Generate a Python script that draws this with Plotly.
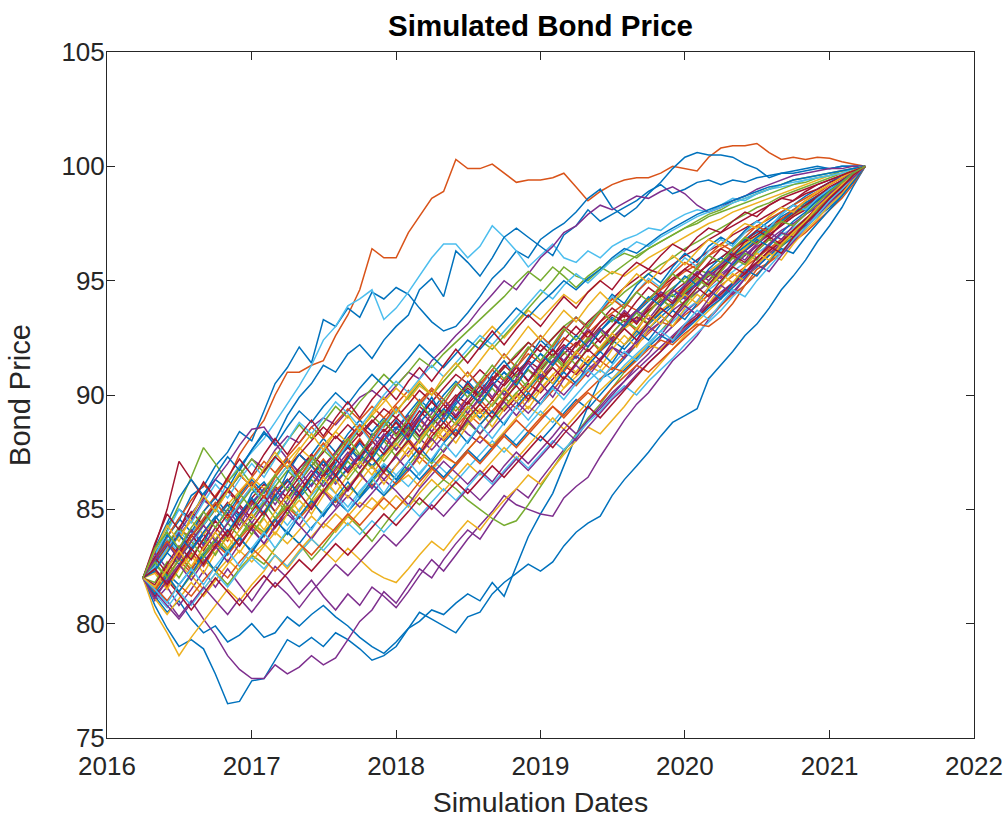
import pandas as pd
import plotly.graph_objects as go

# ---------------- data (monthly simulated bond prices) ----------------
start_date = "2016-04-01"   # first simulation date
year_ticks = ["2016", "2017", "2018", "2019", "2020", "2021", "2022"]
price_ticks = [75, 80, 85, 90, 95, 100, 105]

P1 = [82.0, 82.6, 83.4, 84.1, 83.8, 84.9, 85.6, 86.3, 87.4, 88.2,
      88.9, 90.0, 91.0, 91.0, 91.3, 91.5, 92.6, 93.5, 94.6, 96.4,
      96.0, 96.0, 97.1, 97.8, 98.6, 98.9, 100.3, 99.9, 99.9, 100.1,
      99.7, 99.3, 99.4, 99.4, 99.5, 99.7, 99.1, 98.5, 98.9, 99.2,
      99.4, 99.5, 99.5, 99.7, 100.0, 99.9, 99.8, 100.4, 100.8, 100.9,
      100.9, 101.0, 100.6, 100.3, 100.4, 100.3, 100.4, 100.35, 100.2, 100.1,
      100.0]
P2 = [82.0, 83.0, 83.8, 84.5, 85.6, 86.0, 86.9, 87.5, 88.4, 88.0,
      89.3, 90.5, 91.2, 92.1, 91.4, 93.3, 93.0, 93.8, 93.4, 94.5,
      94.2, 94.7, 94.4, 93.8, 93.2, 92.8, 93.0, 93.6, 94.3, 95.1,
      95.6, 96.3, 96.0, 96.8, 97.2, 97.5, 98.0, 98.6, 99.0, 98.2,
      97.8, 98.2, 98.8, 99.3, 99.9, 100.4, 100.6, 100.5, 100.5, 100.4,
      100.1, 99.9, 99.5, 99.7, 99.8, 99.9, 100.0, 99.9, 100.0, 100.0,
      100.0]
P3 = [82.0, 82.9, 83.6, 84.0, 84.8, 85.5, 85.1, 86.2, 86.9, 87.5,
      88.1, 88.8, 89.6, 90.4, 91.3, 92.4, 93.0, 93.9, 94.2, 94.6,
      93.3, 93.8, 94.5, 95.2, 96.0, 96.6, 96.6, 96.0, 96.5, 97.4,
      96.9, 96.3, 95.6, 96.1, 96.6, 96.0, 95.8, 96.3, 96.0, 96.5,
      96.8, 97.0, 97.3, 97.2, 97.6, 97.9, 98.1, 98.0, 98.3, 98.6,
      98.5, 98.8, 99.0, 99.1, 99.2, 99.4, 99.5, 99.6, 99.7, 99.9,
      100.0]
P4 = [82.0, 83.2, 84.3, 85.0, 84.6, 85.7, 86.3, 85.9, 86.8, 87.6,
      88.3, 88.0, 89.1, 89.9, 90.5, 91.3, 91.0, 91.8, 92.2, 91.6,
      92.4, 93.0, 93.5, 94.6, 95.1, 94.3, 96.3, 95.8, 95.2, 96.0,
      96.9, 97.3, 96.9, 96.5, 96.1, 97.0, 97.4, 98.1, 97.6, 97.9,
      98.2, 98.5, 98.9, 99.2, 98.8, 99.0, 99.3, 99.4, 99.2, 99.4,
      99.3, 99.5, 99.6, 99.7, 99.7, 99.8, 99.9, 99.9, 100.0, 100.0,
      100.0]
P5 = [82.0, 82.4, 83.3, 83.9, 84.5, 85.4, 85.0, 85.8, 86.5, 87.2,
      86.8, 87.6, 88.2, 87.9, 88.6, 89.0, 88.7, 89.3, 89.9, 90.2,
      89.8, 90.4, 91.0, 90.7, 91.5, 92.0, 92.6, 93.1, 93.8, 94.4,
      95.0, 94.6, 95.3, 96.0, 96.5, 97.1, 97.4, 97.9, 98.3, 98.1,
      98.4, 98.7, 98.6, 98.9, 99.1, 98.8, 98.3, 98.0, 98.2, 98.5,
      98.7, 99.0, 99.2, 99.4, 99.6, 99.7, 99.8, 99.9, 99.9, 100.0,
      100.0]
P6 = [82.0, 80.8, 79.8, 79.0, 79.3, 78.9, 77.8, 76.5, 76.6, 77.5,
      77.6, 78.4, 79.3, 79.0, 79.4, 79.0, 79.6, 79.3, 78.9, 78.4,
      78.6, 79.0, 79.8, 80.5, 80.2, 79.9, 79.6, 80.3, 80.5, 81.3,
      81.8, 82.2, 82.6, 82.3, 82.7, 83.4, 84.0, 84.4, 84.7, 85.6,
      86.3, 86.9, 87.5, 88.2, 88.8, 89.1, 89.4, 90.7, 91.3, 91.9,
      92.6, 93.1, 93.8, 94.6, 95.2, 95.9, 96.7, 97.4, 98.2, 99.1,
      100.0]
P7 = [82.0, 81.2, 80.5, 81.0, 80.2, 79.6, 79.9, 79.2, 79.5, 80.0,
      79.4, 79.6, 80.3, 79.9, 80.4, 80.8, 80.3, 79.9, 79.4, 79.0,
      78.7, 79.2, 79.8, 80.1, 80.6, 80.4, 80.9, 81.3, 81.0, 81.8,
      81.2, 82.5, 83.8, 84.8, 85.7, 86.9, 88.2, 89.5, 90.7, 91.0,
      91.6, 92.2, 92.9, 93.4, 93.9, 94.3, 94.9, 95.4, 95.8, 96.3,
      96.8, 97.2, 97.6, 98.0, 98.3, 98.7, 99.0, 99.3, 99.6, 99.8,
      100.0]
P8 = [82.0, 81.5, 81.0, 80.3, 81.0, 80.2, 79.5, 78.6, 78.0, 77.6,
      77.6, 78.2, 77.8, 78.1, 78.6, 78.2, 78.5, 79.3, 80.1, 80.6,
      81.4, 80.9, 81.7, 82.4, 82.0, 82.8, 83.5, 84.1, 83.7, 84.5,
      85.2, 85.9, 85.5, 86.3, 87.0, 87.6, 88.1, 88.9, 89.4, 90.0,
      90.6, 91.3, 91.8, 92.5, 93.0, 93.6, 94.1, 94.7, 95.2, 95.6,
      96.1, 96.6, 97.0, 97.4, 97.8, 98.2, 98.6, 98.9, 99.3, 99.6,
      100.0]
P9 = [82.0, 81.0, 81.6, 80.8, 81.5, 82.3, 81.6, 82.4, 81.7, 81.0,
      81.8, 82.5, 82.0, 81.3, 81.9, 81.2, 80.6, 81.3, 80.8, 81.6,
      81.2, 80.7, 81.4, 82.1, 82.8, 82.3, 83.0, 83.7, 84.3, 84.9,
      85.6, 85.2, 85.0, 84.8, 84.7, 85.5, 86.0, 86.4, 87.3, 88.1,
      88.9, 89.6, 90.1, 90.8, 91.5, 92.0, 92.6, 93.3, 93.9, 94.5,
      95.1, 95.6, 96.1, 96.6, 97.1, 97.6, 98.0, 98.5, 99.0, 99.5,
      100.0]
P10 = [82.0, 82.6, 82.0, 81.4, 82.1, 82.8, 82.3, 81.7, 82.4, 83.0,
       82.6, 83.3, 84.0, 83.5, 82.8, 83.4, 84.1, 84.7, 84.2, 83.6,
       84.3, 85.0, 85.6, 85.2, 85.8, 86.3, 85.9, 85.4, 85.0, 84.6,
       84.3, 84.5, 85.2, 86.0, 86.8, 87.5, 88.3, 89.0, 89.6, 90.3,
       91.0, 91.6, 92.2, 92.8, 93.4, 94.0, 94.5, 95.0, 95.5, 96.0,
       96.4, 96.8, 97.2, 97.6, 98.0, 98.4, 98.7, 99.0, 99.3, 99.7,
       100.0]
P11 = [82.0, 80.5, 79.6, 78.6, 79.4, 80.1, 80.8, 81.5, 81.0, 81.7,
       82.3, 83.0, 82.5, 83.2, 83.8, 84.4, 84.0, 84.7, 85.3, 85.0,
       85.6, 86.1, 86.5, 86.0, 86.7, 87.3, 87.0, 87.6, 88.2, 87.8,
       88.4, 89.0, 89.5, 89.1, 89.7, 90.3, 90.8, 91.3, 91.0, 91.6,
       92.2, 92.7, 93.2, 93.7, 94.1, 94.6, 95.0, 95.4, 95.8, 96.2,
       96.6, 97.0, 97.3, 97.7, 98.0, 98.3, 98.7, 99.0, 99.3, 99.7,
       100.0]
P12 = [82.0, 81.4, 82.0, 82.6, 82.1, 81.5, 82.2, 82.8, 82.3, 83.0,
       83.5, 83.0, 82.4, 83.1, 83.7, 83.2, 82.7, 83.3, 82.8, 82.3,
       82.0, 81.8, 82.4, 83.0, 83.6, 83.2, 83.9, 84.5, 84.1, 84.8,
       85.4, 85.9, 86.5, 86.1, 86.8, 87.4, 88.0, 88.6, 88.3, 88.9,
       89.5, 90.2, 90.8, 91.4, 92.0, 92.6, 93.2, 93.7, 94.2, 94.8,
       95.3, 95.8, 96.3, 96.8, 97.2, 97.7, 98.1, 98.5, 99.0, 99.5,
       100.0]
P13 = [82.0, 83.4, 85.0, 87.1, 86.3, 85.5, 85.0, 85.8, 85.2, 84.6,
       85.3, 86.0, 85.5, 86.2, 86.9, 86.4, 87.1, 87.7, 87.2, 87.9,
       88.5, 88.0, 88.6, 89.3, 88.8, 89.4, 90.0, 89.6, 90.2, 90.8,
       90.4, 91.0, 91.5, 91.1, 91.7, 92.2, 91.8, 92.4, 93.0, 93.5,
       93.2, 93.7, 94.2, 94.7, 95.1, 95.5, 95.9, 96.3, 96.6, 97.0,
       97.3, 97.6, 97.9, 98.2, 98.5, 98.8, 99.0, 99.3, 99.5, 99.8,
       100.0]
P14 = [82.0, 83.0, 84.1, 85.2, 86.4, 87.7, 87.0, 86.2, 86.8, 86.1,
       85.5, 86.2, 86.9, 86.4, 87.1, 86.5, 87.2, 87.8, 87.3, 86.8,
       87.4, 88.0, 88.6, 88.1, 88.7, 89.2, 89.8, 90.4, 90.0, 90.6,
       91.2, 91.8, 92.3, 91.9, 92.5, 93.0, 93.4, 93.0, 93.6, 94.0,
       94.5, 94.9, 95.3, 95.7, 96.0, 96.4, 96.7, 97.0, 97.3, 97.6,
       97.9, 98.2, 98.4, 98.7, 98.9, 99.1, 99.3, 99.5, 99.7, 99.8,
       100.0]
Q1 = [82.0, 83.1, 83.8, 84.6, 84.0, 84.9, 85.5, 84.8, 85.6, 86.3,
      85.7, 86.5, 87.2, 86.6, 87.4, 88.1, 87.5, 88.3, 88.9, 88.4,
      89.0, 88.5, 89.2, 89.8, 89.3, 90.0, 90.6, 90.1, 89.7, 90.4,
      91.0, 90.5, 91.2, 91.8, 91.4, 92.0, 92.6, 92.1, 92.8, 93.3,
      93.0, 93.6, 94.1, 94.5, 94.3, 94.8, 95.3, 95.7, 96.0, 96.4,
      96.8, 97.1, 97.4, 97.8, 98.1, 98.4, 98.7, 99.0, 99.3, 99.6,
      100.0]
Q2 = [82.0, 82.3, 81.6, 82.4, 83.1, 82.5, 83.3, 84.0, 83.4, 84.2,
      84.9, 85.6, 85.0, 85.8, 86.5, 86.0, 86.7, 87.3, 86.8, 87.5,
      88.1, 87.6, 88.3, 88.9, 88.4, 88.0, 88.6, 89.2, 88.7, 89.3,
      89.9, 89.4, 90.0, 89.6, 90.2, 90.8, 90.4, 91.0, 91.5, 91.1,
      91.7, 92.2, 92.7, 93.2, 93.0, 93.5, 93.9, 94.4, 94.8, 95.2,
      95.6, 96.0, 96.4, 96.8, 97.2, 97.6, 98.0, 98.4, 98.8, 99.3,
      100.0]
Q3 = [82.0, 82.8, 83.5, 82.9, 83.6, 84.3, 83.7, 83.1, 83.8, 84.4,
      83.9, 84.6, 85.2, 84.7, 85.3, 85.9, 85.4, 86.0, 86.6, 87.2,
      86.7, 87.3, 87.9, 87.4, 88.0, 88.6, 88.2, 88.8, 89.4, 89.0,
      89.5, 90.1, 89.7, 90.3, 90.9, 91.4, 91.0, 91.5, 92.0, 92.4,
      92.9, 93.3, 93.7, 94.2, 94.6, 94.4, 94.9, 95.3, 95.7, 96.1,
      96.4, 96.8, 97.1, 97.5, 97.8, 98.2, 98.5, 98.8, 99.2, 99.6,
      100.0]
Q4 = [82.0, 82.6, 83.3, 84.0, 84.8, 85.5, 86.3, 87.0, 87.8, 88.5,
      88.6, 87.9, 87.2, 86.6, 87.3, 86.7, 86.1, 86.8, 87.4, 86.9,
      86.3, 86.9, 87.5, 88.1, 87.6, 88.2, 88.8, 88.3, 87.9, 88.5,
      89.1, 89.7, 89.2, 89.8, 90.4, 90.0, 90.6, 91.1, 91.6, 92.1,
      91.8, 92.3, 92.8, 93.2, 93.7, 94.1, 94.5, 94.9, 95.3, 95.7,
      96.1, 96.5, 96.8, 97.2, 97.5, 97.9, 98.2, 98.6, 98.9, 99.4,
      100.0]
Q5 = [82.0, 81.6, 82.3, 82.9, 82.4, 83.1, 83.7, 83.2, 83.8, 84.4,
      84.0, 84.6, 85.2, 84.7, 85.3, 84.8, 85.4, 86.0, 85.6, 86.2,
      86.8, 86.3, 86.9, 87.5, 87.0, 87.6, 88.2, 88.8, 88.3, 88.9,
      89.5, 90.1, 90.6, 91.2, 91.8, 91.3, 91.9, 92.4, 92.9, 92.5,
      93.0, 93.4, 93.9, 94.3, 94.7, 95.1, 95.5, 95.3, 95.7, 96.1,
      96.5, 96.9, 97.2, 97.6, 97.9, 98.2, 98.5, 98.8, 99.2, 99.6,
      100.0]
Q6 = [82.0, 82.9, 83.7, 83.1, 83.9, 84.6, 85.3, 84.7, 84.1, 84.8,
      85.4, 84.9, 84.3, 85.0, 85.6, 86.2, 85.7, 85.1, 85.8, 86.4,
      87.0, 86.5, 86.0, 86.6, 87.2, 86.7, 86.2, 86.8, 87.4, 88.0,
      87.5, 88.1, 88.7, 89.3, 88.8, 89.4, 90.0, 90.6, 91.1, 90.7,
      91.3, 91.8, 92.3, 92.8, 93.2, 93.7, 94.1, 94.6, 95.0, 95.4,
      95.8, 96.2, 96.6, 97.0, 97.3, 97.7, 98.1, 98.5, 98.9, 99.4,
      100.0]
Q7 = [82.0, 82.7, 83.4, 84.2, 84.9, 84.3, 85.0, 85.8, 86.5, 86.0,
      86.7, 87.3, 86.8, 87.4, 86.9, 87.5, 88.2, 87.7, 88.3, 88.9,
      88.4, 89.0, 88.5, 89.1, 89.7, 89.2, 89.8, 90.3, 89.9, 90.5,
      90.0, 90.6, 91.1, 90.7, 91.3, 91.8, 92.3, 91.9, 92.5, 93.0,
      93.5, 93.2, 93.7, 94.1, 94.5, 94.9, 95.3, 95.7, 96.0, 96.4,
      96.7, 97.0, 97.4, 97.7, 98.0, 98.3, 98.6, 98.9, 99.3, 99.6,
      100.0]
Q8 = [82.0, 81.5, 82.2, 81.7, 82.4, 83.0, 83.6, 83.1, 83.7, 83.2,
      83.9, 84.5, 84.0, 83.5, 84.2, 84.8, 85.4, 84.9, 85.5, 86.1,
      85.6, 86.2, 86.8, 86.3, 86.9, 86.4, 87.0, 87.6, 87.1, 87.7,
      88.3, 87.8, 88.4, 88.0, 88.6, 89.2, 89.8, 89.4, 90.0, 90.6,
      91.1, 91.6, 92.1, 92.6, 92.3, 92.8, 93.3, 93.8, 94.2, 94.7,
      95.2, 95.6, 96.1, 96.5, 96.9, 97.4, 97.8, 98.2, 98.7, 99.3,
      100.0]
Q9 = [82.0, 82.9, 83.8, 84.6, 85.4, 86.1, 85.5, 86.3, 85.7, 86.4,
      87.1, 86.6, 87.3, 87.9, 88.6, 88.1, 88.8, 89.4, 88.9, 89.5,
      89.0, 89.6, 90.2, 89.7, 90.3, 89.8, 89.3, 89.9, 90.5, 91.1,
      90.6, 91.2, 91.8, 91.4, 92.0, 92.5, 92.1, 92.7, 93.2, 93.6,
      94.0, 93.7, 94.2, 94.6, 95.0, 95.4, 95.7, 96.1, 96.4, 96.7,
      97.1, 97.4, 97.7, 98.0, 98.3, 98.6, 98.9, 99.2, 99.5, 99.7,
      100.0]
Q10 = [82.0, 81.1, 80.4, 81.1, 81.8, 81.2, 81.9, 82.6, 83.2, 82.7,
       83.4, 84.0, 83.5, 84.1, 84.7, 84.2, 84.8, 84.3, 84.9, 85.5,
       85.0, 85.6, 85.1, 85.7, 86.3, 85.8, 86.4, 87.0, 86.5, 87.1,
       87.7, 87.2, 87.8, 88.4, 89.0, 88.5, 89.1, 89.7, 90.2, 90.7,
       91.2, 91.7, 92.2, 92.0, 92.5, 93.0, 93.5, 94.0, 94.4, 94.9,
       95.3, 95.8, 96.2, 96.6, 97.0, 97.5, 97.9, 98.3, 98.8, 99.3,
       100.0]
Q11 = [82.0, 82.4, 81.8, 82.5, 83.2, 83.9, 83.3, 84.0, 84.7, 84.1,
       83.5, 84.2, 84.8, 84.3, 83.7, 84.4, 85.0, 85.6, 85.1, 85.7,
       86.3, 85.8, 85.2, 85.9, 86.5, 87.1, 86.6, 86.1, 86.7, 86.2,
       86.9, 87.5, 87.0, 87.6, 88.2, 88.8, 88.3, 88.9, 89.5, 90.1,
       90.6, 91.1, 91.6, 92.1, 92.6, 93.1, 93.5, 94.0, 94.5, 94.9,
       95.4, 95.8, 96.3, 96.7, 97.1, 97.5, 97.9, 98.3, 98.8, 99.3,
       100.0]
Q12 = [82.0, 82.7, 83.5, 84.2, 83.6, 84.4, 85.1, 85.8, 86.5, 87.2,
       86.6, 87.3, 88.0, 88.7, 88.1, 88.8, 89.5, 89.0, 89.7, 90.3,
       90.9, 90.4, 91.0, 91.6, 91.2, 91.8, 92.3, 92.8, 93.3, 93.8,
       94.3, 94.9, 95.4, 95.0, 95.6, 95.2, 94.7, 95.2, 95.6, 95.3,
       95.7, 96.1, 96.4, 96.7, 97.0, 97.3, 97.6, 97.9, 98.1, 98.4,
       98.6, 98.8, 99.0, 99.2, 99.4, 99.5, 99.6, 99.7, 99.8, 99.9,
       100.0]
Q13 = [82.0, 81.3, 80.7, 81.4, 80.8, 81.5, 82.2, 81.6, 82.3, 82.9,
       82.4, 83.0, 82.5, 83.1, 83.7, 83.2, 83.8, 84.4, 83.9, 84.5,
       84.0, 84.6, 85.2, 84.7, 85.3, 85.9, 85.4, 86.0, 86.6, 86.1,
       86.7, 87.3, 86.8, 87.4, 88.0, 87.6, 88.2, 88.8, 89.3, 89.9,
       90.4, 90.0, 90.6, 91.1, 91.6, 92.2, 92.7, 93.2, 93.7, 94.3,
       94.8, 95.3, 95.8, 96.3, 96.8, 97.3, 97.8, 98.3, 98.8, 99.4,
       100.0]
Q14 = [82.0, 82.6, 83.2, 83.9, 83.3, 84.0, 84.6, 85.3, 84.8, 85.5,
       86.1, 85.6, 86.2, 86.8, 87.4, 86.9, 87.5, 88.1, 88.7, 88.2,
       88.8, 88.3, 88.9, 89.5, 89.0, 88.5, 89.1, 89.7, 89.2, 89.8,
       89.3, 89.9, 90.5, 90.1, 90.7, 91.3, 90.9, 91.5, 92.0, 92.5,
       93.0, 93.4, 93.1, 93.6, 94.0, 94.4, 94.8, 95.2, 95.6, 96.0,
       96.3, 96.7, 97.0, 97.4, 97.8, 98.1, 98.5, 98.9, 99.2, 99.6,
       100.0]
Q15 = [82.0, 82.4, 83.1, 82.6, 83.3, 83.9, 84.6, 85.2, 84.7, 85.3,
       85.9, 85.4, 86.0, 85.5, 86.1, 86.7, 86.2, 86.8, 87.4, 86.9,
       87.5, 88.1, 88.7, 88.2, 88.8, 89.4, 88.9, 89.5, 89.0, 89.6,
       90.2, 89.7, 90.3, 90.9, 90.5, 91.1, 91.7, 91.3, 91.9, 92.4,
       92.0, 92.6, 93.1, 93.6, 94.0, 94.5, 94.9, 95.3, 95.7, 96.1,
       96.5, 96.9, 97.3, 97.6, 98.0, 98.3, 98.7, 99.0, 99.4, 99.7,
       100.0]
Q16 = [82.0, 81.6, 81.0, 81.7, 81.2, 81.9, 82.5, 82.0, 82.7, 83.3,
       82.8, 82.3, 82.9, 83.5, 83.0, 83.6, 84.2, 84.8, 84.3, 84.9,
       85.5, 85.0, 85.6, 86.2, 86.8, 86.3, 86.9, 87.5, 87.0, 87.6,
       88.2, 87.7, 88.3, 88.9, 89.5, 89.0, 89.6, 90.1, 89.7, 90.3,
       90.8, 91.3, 91.0, 91.5, 92.0, 92.5, 93.0, 93.4, 93.9, 94.4,
       94.8, 95.3, 95.8, 96.2, 96.7, 97.1, 97.6, 98.1, 98.6, 99.2,
       100.0]
Q17 = [82.0, 82.5, 83.2, 83.8, 84.5, 83.9, 84.6, 85.2, 85.8, 86.4,
       85.9, 86.5, 87.1, 87.7, 87.2, 87.8, 88.4, 87.9, 88.5, 89.1,
       89.7, 90.3, 89.8, 90.4, 90.0, 90.6, 91.2, 91.8, 92.4, 93.0,
       92.5, 93.1, 93.7, 93.3, 93.9, 94.4, 94.0, 94.5, 95.0, 95.4,
       95.2, 95.6, 96.0, 96.3, 96.6, 96.9, 97.2, 97.5, 97.7, 98.0,
       98.2, 98.4, 98.6, 98.8, 99.0, 99.2, 99.4, 99.6, 99.7, 99.9,
       100.0]
Q18 = [82.0, 81.4, 80.8, 80.2, 80.9, 81.6, 81.0, 80.4, 81.1, 80.5,
       81.2, 81.8, 81.3, 80.7, 81.4, 82.0, 82.6, 82.1, 82.7, 83.3,
       83.9, 83.4, 84.0, 84.6, 85.2, 84.7, 85.3, 85.9, 85.4, 86.0,
       86.6, 87.2, 86.7, 87.3, 87.9, 88.5, 88.0, 88.6, 89.2, 89.8,
       90.3, 90.9, 91.4, 91.9, 92.4, 92.9, 93.4, 93.9, 94.3, 94.8,
       95.3, 95.7, 96.2, 96.6, 97.1, 97.5, 97.9, 98.4, 98.9, 99.4,
       100.0]
Q19 = [82.0, 82.8, 83.5, 82.9, 83.6, 84.3, 85.0, 84.5, 85.2, 85.9,
       85.3, 86.0, 86.7, 86.2, 86.9, 87.6, 87.1, 87.8, 88.5, 89.1,
       88.6, 89.3, 89.9, 90.5, 90.0, 90.6, 91.2, 91.8, 92.4, 92.0,
       92.6, 93.2, 93.8, 94.4, 95.0, 95.6, 95.2, 95.0, 95.5, 95.9,
       96.2, 96.0, 96.4, 96.7, 97.0, 97.3, 97.5, 97.8, 98.0, 98.2,
       98.4, 98.6, 98.8, 99.0, 99.2, 99.3, 99.5, 99.6, 99.8, 99.9,
       100.0]
Q20 = [82.0, 83.0, 84.0, 85.0, 84.4, 85.3, 86.1, 85.5, 86.3, 87.0,
       86.4, 87.2, 88.0, 88.8, 88.3, 89.0, 89.7, 89.2, 88.6, 89.3,
       90.0, 90.6, 90.1, 90.7, 91.3, 90.8, 91.4, 92.0, 92.6, 92.2,
       92.8, 93.4, 94.0, 94.6, 94.2, 94.8, 95.3, 94.9, 95.4, 95.9,
       96.3, 96.7, 96.5, 96.9, 97.2, 97.5, 97.8, 98.0, 98.2, 98.4,
       98.6, 98.8, 99.0, 99.2, 99.3, 99.4, 99.5, 99.6, 99.7, 99.9,
       100.0]
Q21 = [82.0, 81.2, 81.9, 81.3, 80.6, 81.3, 82.0, 81.4, 80.8, 81.5,
       82.1, 81.6, 82.2, 82.8, 82.3, 82.9, 83.5, 83.0, 83.6, 84.2,
       84.8, 84.3, 84.9, 85.5, 85.0, 85.6, 86.2, 85.7, 86.3, 86.9,
       86.4, 87.0, 87.6, 88.2, 87.7, 88.3, 88.9, 89.5, 89.0, 89.6,
       90.2, 90.8, 91.4, 91.9, 92.5, 93.0, 93.4, 93.9, 94.4, 94.9,
       95.3, 95.8, 96.3, 96.7, 97.2, 97.6, 98.0, 98.5, 98.9, 99.4,
       100.0]
Q22 = [82.0, 82.9, 83.6, 83.0, 83.8, 84.5, 85.2, 85.9, 85.3, 86.0,
       86.7, 87.3, 86.8, 87.4, 88.0, 88.6, 88.1, 88.7, 88.2, 88.8,
       89.4, 89.0, 89.6, 90.2, 89.7, 90.3, 90.9, 90.5, 91.1, 90.6,
       91.2, 91.7, 92.3, 91.9, 92.5, 93.0, 92.6, 93.2, 93.7, 94.2,
       94.7, 95.1, 95.5, 95.3, 95.7, 96.1, 96.4, 96.8, 97.1, 97.4,
       97.7, 98.0, 98.3, 98.6, 98.8, 99.0, 99.2, 99.4, 99.6, 99.8,
       100.0]
Q23 = [82.0, 83.3, 84.4, 85.5, 86.3, 85.6, 86.5, 87.3, 86.7, 87.6,
       88.4, 87.8, 88.6, 89.3, 88.8, 89.5, 90.1, 89.6, 90.3, 90.9,
       90.4, 91.0, 91.6, 92.2, 91.7, 91.2, 91.8, 92.4, 92.0, 92.6,
       93.2, 93.8, 93.4, 94.0, 94.5, 95.0, 94.6, 95.1, 95.5, 96.0,
       96.4, 96.2, 96.6, 97.0, 97.3, 97.6, 97.9, 98.1, 98.3, 98.5,
       98.7, 98.9, 99.1, 99.2, 99.4, 99.5, 99.6, 99.7, 99.8, 99.9,
       100.0]
Q24 = [82.0, 81.5, 82.1, 82.8, 82.2, 82.9, 83.5, 83.0, 83.7, 84.3,
       83.8, 84.5, 85.1, 84.6, 85.2, 85.8, 85.3, 85.9, 86.5, 86.0,
       86.6, 86.1, 86.7, 87.3, 86.8, 87.4, 87.0, 87.6, 88.2, 87.7,
       88.3, 88.9, 88.4, 89.0, 89.5, 89.1, 89.7, 90.2, 90.7, 91.2,
       91.0, 91.5, 92.0, 92.4, 92.2, 92.7, 93.1, 93.0, 93.4, 94.0,
       94.8, 95.5, 95.8, 96.5, 97.1, 97.7, 98.2, 98.8, 99.3, 99.7,
       100.0]
R1 = [82.0, 82.6, 83.9, 83.2, 84.1, 83.5, 84.6, 85.2, 84.5, 85.7,
      86.2, 85.5, 86.6, 87.4, 86.9, 86.2, 87.0, 87.8, 87.1, 88.3,
      88.0, 88.9, 88.2, 89.1, 89.9, 89.0, 89.7, 90.6, 90.0, 90.9,
      91.5, 90.8, 91.6, 92.4, 91.9, 92.8, 93.4, 92.9, 93.7, 94.4,
      94.0, 94.8, 95.3, 94.9, 95.6, 96.2, 95.8, 96.5, 96.9, 96.6,
      97.2, 97.6, 97.3, 97.9, 98.3, 98.1, 98.6, 99.0, 99.3, 99.6,
      100.0]
R2 = [82.0, 81.4, 82.5, 83.1, 82.3, 83.4, 84.2, 83.6, 84.5, 85.3,
      84.7, 85.8, 86.3, 85.6, 86.5, 87.2, 86.5, 87.4, 88.1, 87.3,
      88.2, 88.8, 88.1, 87.5, 88.4, 89.0, 88.3, 89.2, 89.8, 89.2,
      89.9, 90.7, 90.1, 90.8, 91.5, 91.0, 91.8, 92.5, 91.9, 92.7,
      93.3, 92.8, 93.6, 94.2, 93.8, 94.6, 95.1, 94.7, 95.4, 96.0,
      95.7, 96.3, 96.8, 96.5, 97.2, 97.7, 98.1, 98.6, 99.0, 99.5,
      100.0]
R3 = [82.0, 82.2, 81.5, 82.4, 83.0, 82.2, 83.1, 83.8, 83.1, 83.9,
      84.6, 83.9, 84.8, 85.4, 84.8, 85.6, 86.3, 85.5, 86.2, 86.9,
      86.1, 86.9, 87.7, 87.0, 87.8, 88.5, 87.9, 88.7, 89.3, 88.6,
      89.4, 90.0, 89.4, 90.2, 90.9, 90.3, 91.0, 91.7, 91.2, 92.0,
      92.6, 92.1, 92.9, 93.5, 93.0, 93.8, 94.4, 94.0, 94.7, 95.3,
      95.0, 95.7, 96.2, 95.9, 96.6, 97.2, 97.7, 98.3, 98.8, 99.4,
      100.0]
R4 = [82.0, 83.1, 82.4, 83.3, 84.1, 83.4, 84.2, 85.0, 84.3, 85.2,
      85.9, 85.2, 86.0, 86.7, 86.0, 86.8, 87.5, 86.7, 87.4, 88.2,
      87.6, 88.5, 89.1, 88.4, 89.2, 89.8, 89.1, 89.9, 90.6, 89.9,
      90.7, 91.3, 90.6, 91.4, 92.0, 91.5, 92.2, 92.9, 92.3, 93.0,
      93.7, 93.2, 93.9, 94.5, 94.1, 94.8, 95.4, 95.0, 95.7, 96.2,
      95.9, 96.6, 97.1, 96.8, 97.4, 97.9, 98.3, 98.8, 99.2, 99.6,
      100.0]
R5 = [82.0, 81.8, 82.7, 82.0, 82.9, 83.7, 83.0, 83.9, 84.6, 83.9,
      84.7, 85.5, 84.8, 85.6, 86.3, 85.7, 86.4, 87.1, 86.5, 87.3,
      88.0, 87.3, 88.1, 88.7, 88.0, 88.8, 89.5, 88.9, 89.6, 90.3,
      89.7, 90.5, 91.1, 90.5, 91.3, 91.9, 91.3, 92.1, 92.8, 92.2,
      93.0, 93.6, 93.1, 93.9, 94.4, 93.9, 94.7, 95.3, 94.9, 95.6,
      96.2, 95.9, 96.6, 97.1, 96.8, 97.5, 98.0, 98.5, 99.0, 99.5,
      100.0]
R6 = [82.0, 82.5, 83.3, 84.1, 83.4, 84.3, 85.1, 84.4, 85.3, 86.0,
      85.3, 86.2, 86.9, 86.2, 87.1, 87.8, 87.1, 87.9, 88.6, 87.9,
      88.7, 89.4, 88.7, 89.5, 90.2, 89.6, 90.4, 91.0, 90.3, 91.1,
      91.8, 91.2, 92.0, 92.6, 92.0, 92.8, 93.4, 92.9, 93.7, 94.3,
      93.8, 94.5, 95.1, 94.7, 95.4, 96.0, 95.6, 96.3, 96.8, 96.5,
      97.1, 97.6, 97.3, 97.9, 98.3, 98.1, 98.6, 99.0, 99.3, 99.7,
      100.0]
R7 = [82.0, 82.9, 82.2, 83.1, 83.9, 83.2, 84.0, 84.8, 84.1, 84.9,
      85.6, 84.9, 85.7, 86.4, 85.7, 86.5, 87.2, 86.6, 87.3, 88.0,
      87.4, 88.1, 88.8, 88.2, 88.9, 89.6, 89.0, 89.7, 90.4, 89.8,
      90.5, 91.2, 90.6, 91.3, 92.0, 91.4, 92.2, 92.8, 92.3, 93.0,
      93.6, 93.1, 93.8, 94.4, 94.0, 94.7, 95.2, 94.8, 95.5, 96.1,
      95.8, 96.4, 96.9, 96.6, 97.2, 97.7, 98.2, 98.7, 99.1, 99.6,
      100.0]
R8 = [82.0, 81.7, 82.6, 83.4, 82.8, 83.7, 84.5, 83.8, 84.7, 85.4,
      84.8, 85.6, 86.3, 85.7, 86.5, 87.1, 86.5, 87.3, 88.0, 87.4,
      88.2, 88.8, 88.2, 89.0, 89.7, 89.1, 89.9, 90.5, 89.9, 90.7,
      91.3, 90.8, 91.5, 92.2, 91.7, 92.4, 93.0, 92.5, 93.2, 93.8,
      93.4, 94.1, 94.7, 94.3, 95.0, 95.5, 95.2, 95.8, 96.4, 96.1,
      96.7, 97.2, 96.9, 97.5, 97.9, 98.3, 98.7, 99.1, 99.4, 99.7,
      100.0]
R9 = [82.0, 81.3, 82.1, 81.4, 82.2, 83.0, 82.3, 83.1, 83.8, 83.1,
      83.9, 84.6, 83.9, 84.7, 85.4, 84.7, 85.5, 86.2, 85.5, 86.3,
      86.9, 86.3, 87.1, 87.7, 87.1, 87.9, 88.5, 87.9, 88.7, 89.3,
      88.7, 89.5, 90.1, 89.6, 90.4, 91.0, 90.5, 91.3, 91.9, 91.4,
      92.2, 92.8, 92.4, 93.1, 93.7, 93.3, 94.0, 94.6, 94.2, 94.9,
      95.5, 95.2, 95.9, 96.4, 96.2, 96.9, 97.5, 98.1, 98.7, 99.3,
      100.0]
R10 = [82.0, 82.8, 83.6, 82.9, 83.8, 84.6, 85.3, 84.6, 85.5, 86.2,
       85.5, 86.4, 87.1, 86.4, 87.2, 87.9, 87.2, 88.0, 88.7, 88.0,
       88.8, 89.5, 88.8, 89.6, 90.2, 89.6, 90.4, 91.0, 90.4, 91.1,
       91.8, 91.2, 92.0, 92.6, 92.1, 92.8, 93.4, 92.9, 93.6, 94.2,
       93.8, 94.5, 95.0, 94.6, 95.3, 95.8, 95.5, 96.1, 96.6, 96.3,
       96.9, 97.4, 97.1, 97.7, 98.1, 98.5, 98.8, 99.2, 99.5, 99.8,
       100.0]
R11 = [82.0, 83.2, 84.3, 83.6, 84.7, 85.6, 84.9, 85.8, 86.6, 85.9,
       86.8, 87.5, 86.8, 87.6, 88.3, 87.6, 88.4, 89.1, 88.4, 89.2,
       89.9, 89.2, 90.0, 90.6, 90.0, 90.8, 91.4, 90.8, 91.5, 92.2,
       91.6, 92.3, 93.0, 92.4, 93.1, 93.7, 93.2, 93.9, 94.5, 94.0,
       94.7, 95.3, 94.9, 95.5, 96.1, 95.7, 96.3, 96.8, 96.5, 97.1,
       97.5, 97.3, 97.8, 98.2, 98.0, 98.5, 98.9, 99.2, 99.5, 99.8,
       100.0]
R12 = [82.0, 81.1, 81.9, 82.6, 81.9, 82.7, 83.4, 82.7, 83.5, 84.2,
       83.5, 84.3, 85.0, 84.3, 85.1, 85.8, 85.1, 85.9, 86.6, 85.9,
       86.7, 87.3, 86.7, 87.4, 88.1, 87.5, 88.2, 88.9, 88.3, 89.0,
       89.7, 89.1, 89.8, 90.5, 89.9, 90.7, 91.3, 90.8, 91.5, 92.1,
       91.6, 92.4, 93.0, 92.6, 93.3, 93.9, 93.5, 94.2, 94.8, 94.4,
       95.1, 95.7, 95.4, 96.1, 96.7, 97.3, 97.9, 98.5, 99.0, 99.5,
       100.0]
R13 = [82.0, 82.7, 82.0, 82.8, 83.6, 82.9, 83.7, 84.4, 83.8, 84.6,
       85.3, 84.6, 85.4, 86.1, 85.4, 86.2, 86.9, 86.3, 87.0, 87.7,
       87.1, 87.8, 88.5, 87.9, 88.6, 89.3, 88.7, 89.4, 90.1, 89.5,
       90.2, 90.9, 90.3, 91.0, 91.7, 91.2, 91.9, 92.5, 92.0, 92.7,
       93.3, 92.9, 93.6, 94.2, 93.8, 94.5, 95.1, 94.7, 95.4, 96.0,
       95.7, 96.3, 96.8, 96.5, 97.1, 97.6, 98.1, 98.6, 99.1, 99.5,
       100.0]
R14 = [82.0, 81.5, 80.9, 81.7, 82.4, 81.7, 82.5, 83.2, 82.5, 83.3,
       84.0, 83.3, 84.1, 84.8, 84.1, 84.9, 85.6, 84.9, 85.7, 86.4,
       85.7, 86.5, 87.1, 86.5, 87.2, 87.9, 87.3, 88.0, 88.7, 88.1,
       88.8, 89.5, 88.9, 89.6, 90.3, 89.8, 90.5, 91.1, 90.6, 91.3,
       91.9, 91.5, 92.2, 92.8, 92.4, 93.1, 93.7, 93.3, 94.0, 94.6,
       94.3, 95.0, 95.6, 96.2, 96.8, 97.3, 97.9, 98.5, 99.0, 99.5,
       100.0]
R15 = [82.0, 83.5, 84.8, 84.1, 85.2, 86.2, 85.5, 86.4, 87.2, 86.5,
       87.4, 88.1, 87.4, 88.2, 88.9, 88.2, 89.0, 89.7, 89.0, 89.8,
       90.4, 89.8, 90.6, 91.2, 90.6, 91.3, 92.0, 91.4, 92.1, 92.8,
       92.2, 92.9, 93.5, 93.0, 93.7, 94.3, 93.8, 94.5, 95.0, 94.6,
       95.3, 95.8, 95.5, 96.1, 96.6, 96.3, 96.9, 97.3, 97.1, 97.6,
       98.0, 97.8, 98.3, 98.6, 98.5, 98.9, 99.2, 99.4, 99.6, 99.8,
       100.0]
R16 = [82.0, 82.3, 83.1, 83.9, 83.2, 84.0, 84.7, 84.0, 84.8, 85.5,
       84.8, 85.6, 86.3, 85.6, 86.4, 87.1, 86.4, 87.2, 87.9, 87.2,
       88.0, 88.6, 88.0, 88.8, 89.4, 88.8, 89.6, 90.2, 89.6, 90.4,
       91.0, 90.4, 91.2, 91.8, 91.3, 92.0, 92.6, 92.1, 92.8, 93.4,
       93.0, 93.7, 94.3, 93.9, 94.6, 95.2, 94.8, 95.5, 96.0, 95.7,
       96.3, 96.8, 96.5, 97.1, 97.6, 98.0, 98.5, 98.9, 99.3, 99.7,
       100.0]
R17 = [82.0, 82.8, 83.5, 82.8, 83.6, 84.3, 83.6, 84.4, 85.1, 84.4,
       85.2, 85.9, 85.2, 86.0, 86.7, 86.0, 86.8, 87.5, 86.8, 87.6,
       88.3, 87.6, 88.4, 89.0, 88.4, 89.1, 89.8, 89.2, 89.9, 90.6,
       90.0, 90.7, 91.4, 90.8, 91.5, 92.1, 91.6, 92.3, 92.9, 92.4,
       93.1, 93.7, 93.3, 94.0, 94.6, 94.2, 94.9, 95.4, 95.1, 95.8,
       96.3, 96.0, 96.6, 97.1, 96.9, 97.5, 98.0, 98.6, 99.1, 99.5,
       100.0]
R18 = [82.0, 81.6, 82.4, 83.2, 82.5, 83.3, 84.0, 83.3, 84.1, 84.8,
       84.1, 84.9, 85.6, 84.9, 85.7, 86.4, 85.7, 86.5, 87.1, 86.5,
       87.3, 87.9, 87.3, 88.0, 88.7, 88.1, 88.8, 89.5, 88.9, 89.6,
       90.3, 89.7, 90.4, 91.1, 90.5, 91.2, 91.9, 91.4, 92.1, 92.7,
       92.2, 92.9, 93.5, 93.1, 93.8, 94.4, 94.0, 94.7, 95.3, 94.9,
       95.6, 96.2, 95.9, 96.6, 97.1, 97.6, 98.2, 98.7, 99.2, 99.6,
       100.0]
R19 = [82.0, 82.4, 81.7, 82.5, 83.3, 82.6, 83.4, 84.1, 83.4, 84.2,
       84.9, 84.2, 85.0, 85.7, 85.0, 85.8, 86.5, 85.8, 86.6, 87.3,
       86.6, 87.4, 88.0, 87.4, 88.2, 88.8, 88.2, 89.0, 89.6, 89.0,
       89.8, 90.4, 89.8, 90.6, 91.2, 90.7, 91.4, 92.0, 91.5, 92.3,
       92.9, 92.4, 93.2, 93.8, 93.4, 94.1, 94.7, 94.3, 95.0, 95.6,
       95.3, 96.0, 96.5, 96.2, 96.9, 97.5, 98.0, 98.6, 99.1, 99.6,
       100.0]
R20 = [82.0, 83.3, 84.0, 83.3, 84.2, 84.9, 84.2, 85.0, 85.7, 85.0,
       85.8, 86.5, 85.8, 86.6, 87.3, 86.6, 87.4, 88.1, 87.4, 88.2,
       88.9, 88.2, 89.0, 89.7, 89.0, 89.8, 90.5, 89.9, 90.6, 91.3,
       90.7, 91.4, 92.1, 91.5, 92.2, 92.9, 92.4, 93.1, 93.7, 93.2,
       93.9, 94.5, 94.1, 94.8, 95.3, 94.9, 95.6, 96.1, 95.8, 96.4,
       96.9, 96.6, 97.2, 97.6, 97.4, 97.9, 98.4, 98.9, 99.3, 99.7,
       100.0]

# ---------------- styling (MATLAB default colour order) ----------------
BLUE, ORANGE, YELLOW, PURPLE, GREEN, LBLUE, RED = (
    "#0072BD", "#D95319", "#EDB120", "#7E2F8E", "#77AC30", "#4DBEEE", "#A2142F")

series = [
    (P1, ORANGE), (P2, BLUE), (P3, LBLUE), (P4, BLUE), (P5, PURPLE), (P6, BLUE),
    (P7, BLUE), (P8, PURPLE), (P9, PURPLE), (P10, GREEN), (P11, YELLOW),
    (P12, YELLOW), (P13, RED), (P14, GREEN),
    (Q1, BLUE), (Q2, ORANGE), (Q3, YELLOW), (Q4, PURPLE), (Q5, GREEN), (Q6, LBLUE),
    (Q7, RED), (Q8, BLUE), (Q9, ORANGE), (Q10, YELLOW), (Q11, PURPLE), (Q12, GREEN),
    (Q13, LBLUE), (Q14, RED), (Q15, BLUE), (Q16, ORANGE), (Q17, YELLOW), (Q18, PURPLE),
    (Q19, GREEN), (Q20, LBLUE), (Q21, RED), (Q22, RED), (Q23, BLUE), (Q24, ORANGE),
    (R1, BLUE), (R2, ORANGE), (R3, YELLOW), (R4, PURPLE), (R5, GREEN), (R6, LBLUE),
    (R7, RED), (R8, RED), (R9, BLUE), (R10, ORANGE), (R11, YELLOW), (R12, PURPLE),
    (R13, GREEN), (R14, LBLUE), (R15, RED), (R16, BLUE), (R17, PURPLE), (R18, YELLOW),
    (R19, RED), (R20, GREEN),
]
bad = [i for i, (p, _) in enumerate(series) if len(p) != 61]
assert not bad, f"bad lengths at {bad}: {[len(series[i][0]) for i in bad]}"

TXT = "#262626"
FONT = "Liberation Sans, Arial, sans-serif"

fig = go.Figure()
for path, color in series:
    dates = pd.date_range(start_date, periods=len(path), freq="MS")
    fig.add_trace(go.Scatter(x=dates, y=path, mode="lines",
                             line=dict(color=color, width=1.5),
                             hoverinfo="skip", showlegend=False))

axis_common = dict(showline=True, linecolor=TXT, linewidth=1, mirror="ticks",
                   ticks="inside", ticklen=8, tickwidth=1, tickcolor=TXT,
                   showgrid=False, zeroline=False, automargin=False,
                   ticklabeloverflow="allow",
                   tickfont=dict(family=FONT, size=26, color=TXT))

fig.update_layout(
    width=1007, height=818,
    margin=dict(l=107, r=33, t=52, b=80, autoexpand=False),
    plot_bgcolor="white", paper_bgcolor="white",
    font=dict(family=FONT, color=TXT),
    title=dict(text="<b>Simulated Bond Price</b>", xref="paper", x=0.5,
               xanchor="center", y=1 - 26 / 818, yanchor="middle",
               font=dict(family=FONT, size=29.5, color="#000000")),
    xaxis=dict(type="date", range=["2016-01-01", "2022-01-01"],
               tickvals=[f"{y}-01-01" for y in year_ticks], ticktext=year_ticks,
               ticklabelstandoff=5,
               title=dict(text="Simulation Dates", standoff=30,
                          font=dict(family=FONT, size=28.5, color=TXT)),
               **axis_common),
    yaxis=dict(range=[price_ticks[0], price_ticks[-1]], tickvals=price_ticks,
               ticklabelstandoff=-4,
               title=dict(text="Bond Price", standoff=22,
                          font=dict(family=FONT, size=29, color=TXT)),
               **axis_common),
)

# remove the default page margin so the 1007x818 figure fills the window exactly
fig.write_html("out.html",
               config={"displayModeBar": False},
               post_script="document.body.style.margin='0';document.body.style.overflow='hidden';")
